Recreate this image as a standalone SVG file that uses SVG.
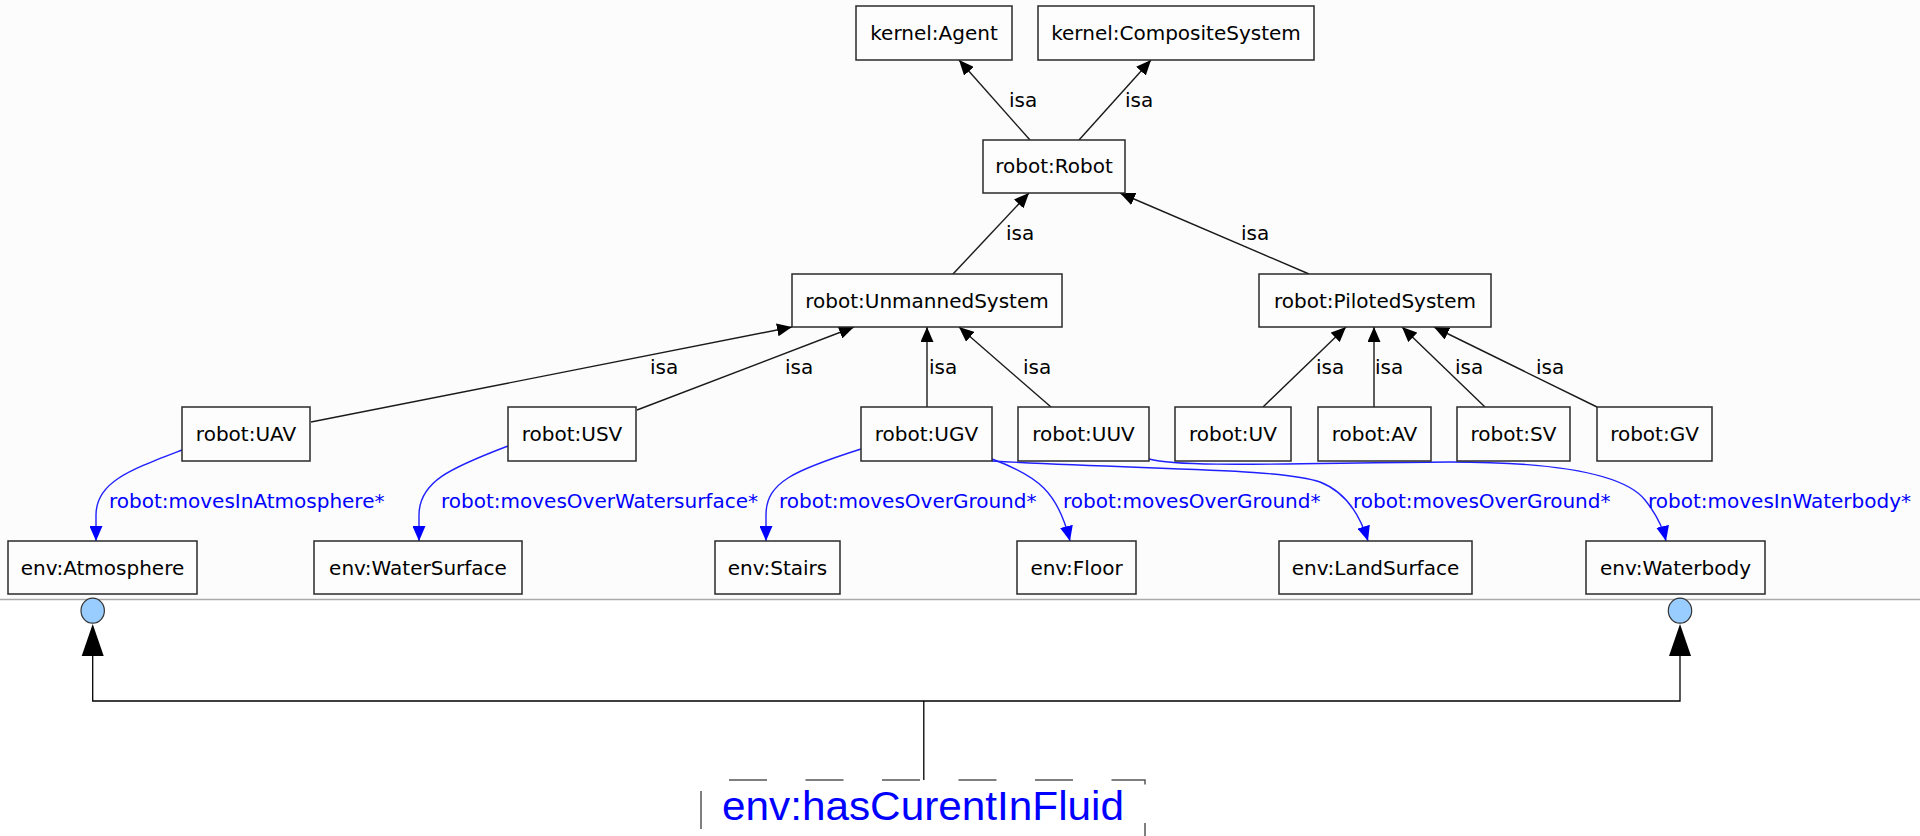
<svg xmlns="http://www.w3.org/2000/svg" width="1920" height="836" viewBox="0 0 1920 836">
  <style>
    .box { fill: #fcfdfc; stroke: #2a2a2a; stroke-width: 1.5; }
    .lbl { font-family: "DejaVu Sans", "Liberation Sans", sans-serif; font-size: 20px; fill: #000; text-anchor: middle; }
    .isa { font-family: "DejaVu Sans", "Liberation Sans", sans-serif; font-size: 20px; fill: #000; }
    .rel { font-family: "DejaVu Sans", "Liberation Sans", sans-serif; font-size: 20px; fill: #0000ff; }
    .edge { fill: none; stroke: #1a1a1a; stroke-width: 1.4; marker-end: url(#ah); }
    .prop { fill: none; stroke: #2020ff; stroke-width: 1.4; marker-end: url(#ahb); }
    .wire { fill: none; stroke: #000; stroke-width: 1.3; }
    .dash { fill: none; stroke: #555; stroke-width: 1.5; }
    .knob { fill: #99ccff; stroke: #333; stroke-width: 1.2; }
  </style>
  <defs>
    <marker id="ah" markerUnits="userSpaceOnUse" markerWidth="16" markerHeight="13" viewBox="0 0 16 13" refX="15" refY="6.5" orient="auto">
      <path d="M0,0 L15,6.5 L0,13 z" fill="#000"/>
    </marker>
    <marker id="ahb" markerUnits="userSpaceOnUse" markerWidth="16" markerHeight="13" viewBox="0 0 16 13" refX="15" refY="6.5" orient="auto">
      <path d="M0,0 L15,6.5 L0,13 z" fill="#0000ff"/>
    </marker>
  </defs>

  <!-- canvas -->
  <rect x="0" y="0" width="1920" height="836" fill="#ffffff"/>
  <rect x="0" y="0" width="1920" height="599" fill="#fbfcfb"/>
  <line x1="0" y1="599.5" x2="1920" y2="599.5" stroke="#aaaaaa" stroke-width="1.5"/>

  <g id="connectors">
    <!-- isa edges -->
    <path class="edge" d="M1030,140 L959,60"/>
    <path class="edge" d="M1079,140 L1151,60"/>
    <path class="edge" d="M953,274 L1029,193"/>
    <path class="edge" d="M1309,274 L1120,193"/>
    <path class="edge" d="M311,422 L792,327"/>
    <path class="edge" d="M637,410 L854,327"/>
    <path class="edge" d="M927,407 L927,327"/>
    <path class="edge" d="M1051,407 L959,327"/>
    <path class="edge" d="M1263,407 L1346,327"/>
    <path class="edge" d="M1374,407 L1374,327"/>
    <path class="edge" d="M1485,407 L1402,327"/>
    <path class="edge" d="M1597,407 L1434,327"/>

    <!-- property edges -->
    <path class="prop" d="M182,450 C130,470 96,482 96,515 L96,541"/>
    <path class="prop" d="M508,446 C450,468 419,482 419,515 L419,541"/>
    <path class="prop" d="M861,449 C795,470 766,482 766,515 L766,541"/>
    <path class="prop" d="M992,459 C1038,476 1058,492 1070,541"/>
    <path class="prop" d="M992,461 C1150,470 1280,468 1320,482 C1346,492 1360,515 1368,541"/>
    <path class="prop" d="M1149,459 C1180,468 1300,463 1450,462 C1560,462 1625,475 1645,500 C1657,515 1663,528 1666,541"/>

    <!-- isa labels -->
    <text class="isa" x="1009" y="107">isa</text>
    <text class="isa" x="1125" y="107">isa</text>
    <text class="isa" x="1006" y="240">isa</text>
    <text class="isa" x="1241" y="240">isa</text>
    <text class="isa" x="650" y="374">isa</text>
    <text class="isa" x="785" y="374">isa</text>
    <text class="isa" x="929" y="374">isa</text>
    <text class="isa" x="1023" y="374">isa</text>
    <text class="isa" x="1316" y="374">isa</text>
    <text class="isa" x="1375" y="374">isa</text>
    <text class="isa" x="1455" y="374">isa</text>
    <text class="isa" x="1536" y="374">isa</text>

    <!-- property labels -->
    <text class="rel" x="109" y="508">robot:movesInAtmosphere*</text>
    <text class="rel" x="441" y="508">robot:movesOverWatersurface*</text>
    <text class="rel" x="779" y="508">robot:movesOverGround*</text>
    <text class="rel" x="1063" y="508">robot:movesOverGround*</text>
    <text class="rel" x="1353" y="508">robot:movesOverGround*</text>
    <text class="rel" x="1648" y="508">robot:movesInWaterbody*</text>

    <!-- domain link of env:hasCurentInFluid -->
    <path class="wire" d="M92.7,656 V701 H1680 V656"/>
    <path class="wire" d="M923.8,701 V780"/>
    <polygon points="92.7,624 81.7,656 103.7,656" fill="#000"/>
    <polygon points="1680,624 1669,656 1691,656" fill="#000"/>
    <ellipse class="knob" cx="92.7" cy="610.7" rx="11.7" ry="12.5"/>
    <ellipse class="knob" cx="1680" cy="610.7" rx="11.7" ry="12.5"/>
  </g>

  <g id="kernel-Agent"><rect class="box" x="856" y="6" width="156" height="54"/><text class="lbl" x="934" y="40">kernel:Agent</text></g>
  <g id="kernel-CompositeSystem"><rect class="box" x="1038" y="6" width="276" height="54"/><text class="lbl" x="1176" y="40">kernel:CompositeSystem</text></g>
  <g id="robot-Robot"><rect class="box" x="983" y="140" width="142" height="53"/><text class="lbl" x="1054" y="173">robot:Robot</text></g>
  <g id="robot-UnmannedSystem"><rect class="box" x="792" y="274" width="270" height="53"/><text class="lbl" x="927" y="307.5">robot:UnmannedSystem</text></g>
  <g id="robot-PilotedSystem"><rect class="box" x="1259" y="274" width="232" height="53"/><text class="lbl" x="1375" y="307.5">robot:PilotedSystem</text></g>

  <g id="robot-UAV"><rect class="box" x="182" y="407" width="128" height="54"/><text class="lbl" x="246" y="441">robot:UAV</text></g>
  <g id="robot-USV"><rect class="box" x="508" y="407" width="128" height="54"/><text class="lbl" x="572" y="441">robot:USV</text></g>
  <g id="robot-UGV"><rect class="box" x="861" y="407" width="131" height="54"/><text class="lbl" x="926.5" y="441">robot:UGV</text></g>
  <g id="robot-UUV"><rect class="box" x="1018" y="407" width="131" height="54"/><text class="lbl" x="1083.5" y="441">robot:UUV</text></g>
  <g id="robot-UV"><rect class="box" x="1175" y="407" width="116" height="54"/><text class="lbl" x="1233" y="441">robot:UV</text></g>
  <g id="robot-AV"><rect class="box" x="1318" y="407" width="113" height="54"/><text class="lbl" x="1374.5" y="441">robot:AV</text></g>
  <g id="robot-SV"><rect class="box" x="1457" y="407" width="113" height="54"/><text class="lbl" x="1513.5" y="441">robot:SV</text></g>
  <g id="robot-GV"><rect class="box" x="1597" y="407" width="115" height="54"/><text class="lbl" x="1654.5" y="441">robot:GV</text></g>

  <g id="env-Atmosphere"><rect class="box" x="8" y="541" width="189" height="53"/><text class="lbl" x="102.5" y="575">env:Atmosphere</text></g>
  <g id="env-WaterSurface"><rect class="box" x="314" y="541" width="208" height="53"/><text class="lbl" x="418" y="575">env:WaterSurface</text></g>
  <g id="env-Stairs"><rect class="box" x="715" y="541" width="125" height="53"/><text class="lbl" x="777.5" y="575">env:Stairs</text></g>
  <g id="env-Floor"><rect class="box" x="1017" y="541" width="119" height="53"/><text class="lbl" x="1076.5" y="575">env:Floor</text></g>
  <g id="env-LandSurface"><rect class="box" x="1279" y="541" width="193" height="53"/><text class="lbl" x="1375.5" y="575">env:LandSurface</text></g>
  <g id="env-Waterbody"><rect class="box" x="1586" y="541" width="179" height="53"/><text class="lbl" x="1675.5" y="575">env:Waterbody</text></g>

  <g id="env-hasCurentInFluid">
    <path class="dash" d="M701,780 H1145 V840" stroke-dasharray="38 38.5" stroke-dashoffset="48.5"/>
    <path class="dash" d="M701,780 V840" stroke-dasharray="38 38.5" stroke-dashoffset="65.5"/>
    <text x="722" y="820" textLength="402" lengthAdjust="spacingAndGlyphs" font-family="'Liberation Sans', Arial, sans-serif" font-size="41" fill="#0000ff">env:hasCurentInFluid</text>
  </g>
</svg>
